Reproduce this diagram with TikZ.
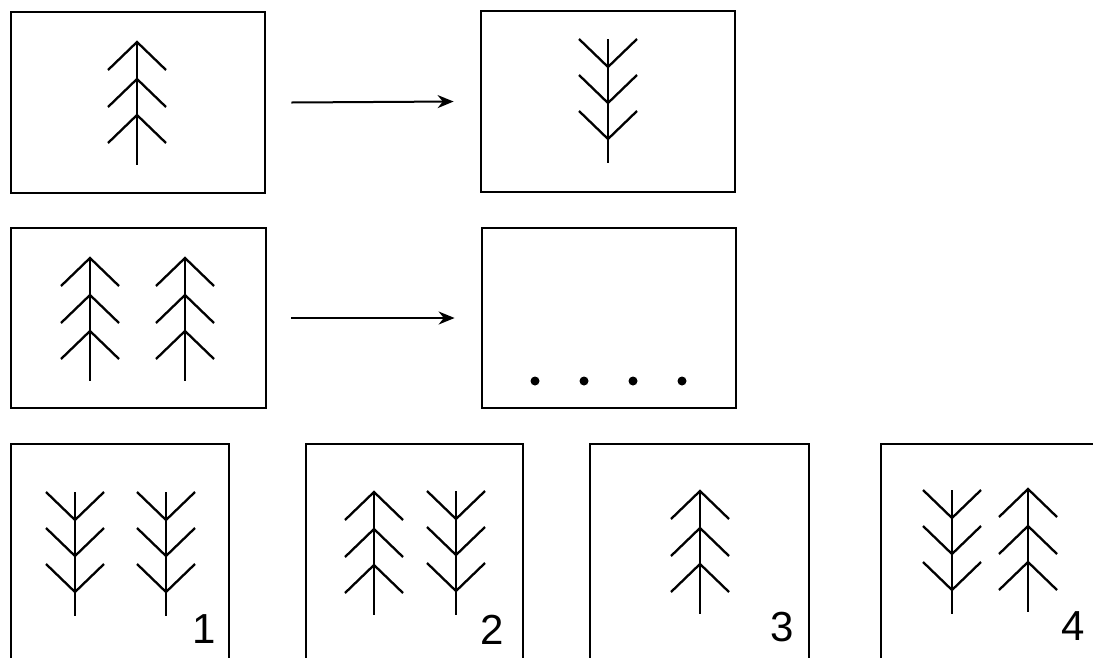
\documentclass[tikz,border=0pt]{standalone}
\usepackage{fontspec}
\setmainfont{Liberation Sans}
\usetikzlibrary{arrows.meta}
\usetikzlibrary{positioning}

\begin{document}
\begin{tikzpicture}[x=1pt,y=-1pt,>={Stealth[length=16pt,width=13pt]},
	panel/.style={draw,line width=2.8pt,inner sep=0pt},
	twig/.style={line width=2.3pt},
	num/.style={font=\fontsize{42}{42}\selectfont,inner sep=0pt},
	uptree/.pic={\draw[twig](0,0)--(0,123);
		\foreach \d in {0,37,73} \draw[twig](-29,\d+28)--(0,\d)--(29,\d+28);},
	downtree/.pic={\draw[twig](0,0)--(0,124);
		\foreach \d in {28,64,100} \draw[twig](-29,\d-28)--(0,\d)--(29,\d-28);}]
					\clip (0,0) rectangle (1093,657);
					% upper two rows
					\node[panel,minimum width=254,minimum height=181](boxA) at (138,102.5){};
					\node[panel,minimum width=254,minimum height=181](boxB) at (608,101.5){};
					\node[panel,minimum width=255,minimum height=180](boxC) at (138.5,318){};
					\node[panel,minimum width=254,minimum height=180](boxD) at (609,318){};
					\draw[->,line width=2pt]([xshift=25]boxA.east)--([xshift=-26]boxB.west);
					\draw[->,line width=2pt]([xshift=24]boxC.east)--([xshift=-26]boxD.west);
					\pic at (137,42){uptree};
					\pic at (608,39){downtree};
					\pic at (90,258){uptree};
					\pic at (185,258){uptree};
					\foreach \x in {535,584,633,682} \fill (\x,381)circle(4.5);
					% answer boxes
					\node[panel,minimum width=218,minimum height=236](opt1) at (120,562){};
					\node[panel,minimum width=217,minimum height=236](opt2) at (414.5,562){};
					\node[panel,minimum width=219,minimum height=236](opt3) at (699.5,562){};
					\node[panel,minimum width=230,minimum height=236](opt4) at (996,562){};
					\pic at (75,492){downtree};
					\pic at (166,492){downtree};
					\pic at (374,492){uptree};
					\pic at (456,491){downtree};
					\pic at (700,491){uptree};
					\pic at (952,490){downtree};
					\pic at (1028,489){uptree};
					\node[num](lab1) at (204,629){1};
					\node[num](lab2) at (492,630){2};
					\node[num](lab3) at (782,627){3};
					\node[num](lab4) at (1073,626){4};
			  	\end{tikzpicture}
\end{document}
